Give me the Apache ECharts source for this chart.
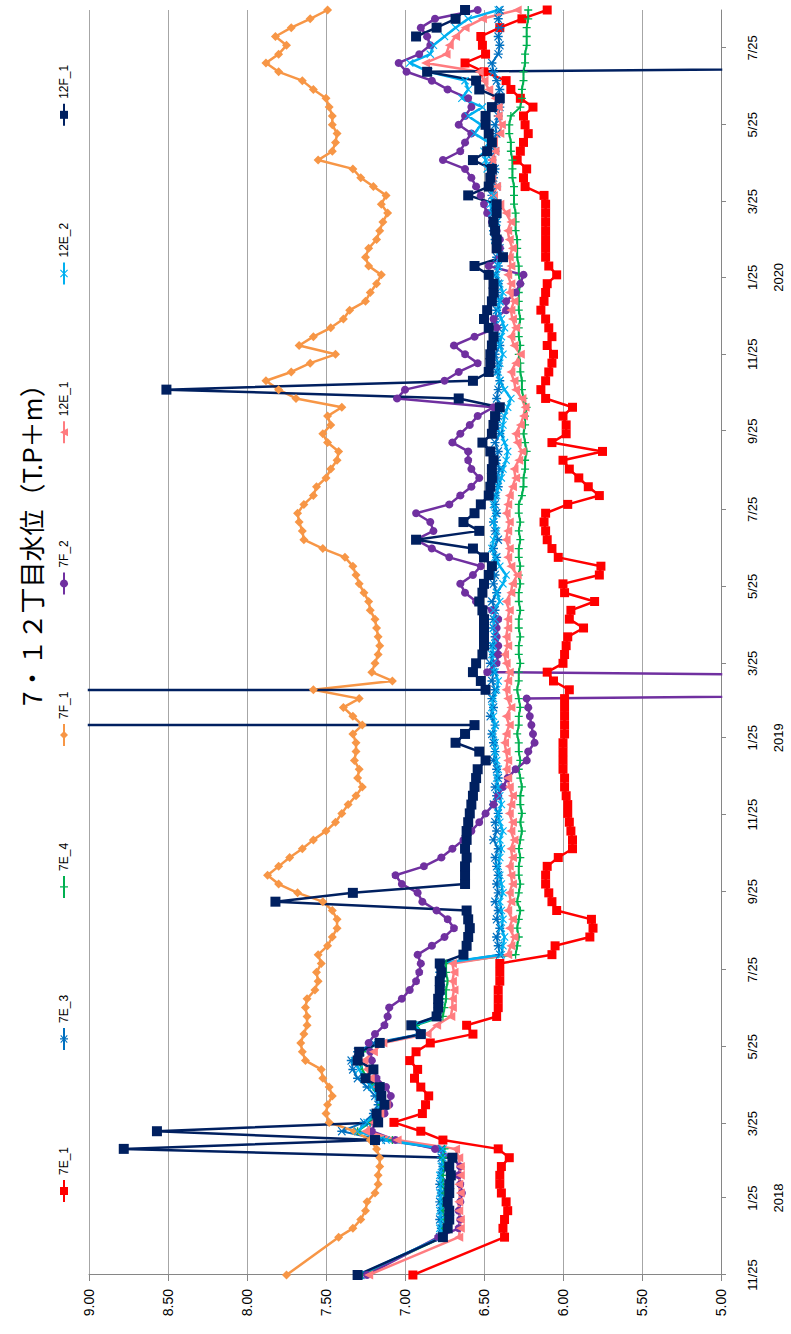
<!DOCTYPE html>
<html><head><meta charset="utf-8">
<script src="https://cdn.jsdelivr.net/npm/echarts@6/dist/echarts.min.js"></script>
<style>
html,body{margin:0;padding:0;background:#fff;overflow:hidden;width:791px;height:1334px;}
#chart{position:absolute;left:0;top:0;width:1334px;height:791px;transform-origin:0 0;transform:translate(0,1334px) rotate(-90deg);}
</style></head><body><div id="chart"></div>
<script>
const dates = ['2017-11-25','2017-12-25',
'2018-01-01','2018-01-08','2018-01-15','2018-01-22','2018-01-29','2018-02-05','2018-02-12','2018-02-19','2018-02-26',
'2018-03-05','2018-03-12','2018-03-19','2018-03-26','2018-04-02','2018-04-09','2018-04-16','2018-04-23','2018-04-30',
'2018-05-07','2018-05-14','2018-05-21','2018-05-28','2018-06-04','2018-06-11','2018-06-18','2018-06-25','2018-07-02',
'2018-07-09','2018-07-16','2018-07-23','2018-07-30','2018-08-06','2018-08-13','2018-08-20','2018-08-27','2018-09-03',
'2018-09-10','2018-09-17','2018-09-24','2018-10-01','2018-10-08','2018-10-15','2018-10-22','2018-10-29','2018-11-05',
'2018-11-12','2018-11-19','2018-11-26','2018-12-03','2018-12-10','2018-12-17','2018-12-24','2018-12-31',
'2019-01-07','2019-01-14','2019-01-21','2019-01-28','2019-02-04','2019-02-11','2019-02-18','2019-02-25','2019-03-04',
'2019-03-11','2019-03-18','2019-03-25','2019-04-01','2019-04-08','2019-04-15','2019-04-22','2019-04-29','2019-05-06',
'2019-05-13','2019-05-20','2019-05-27','2019-06-03','2019-06-10','2019-06-17','2019-06-24','2019-07-01','2019-07-08',
'2019-07-15','2019-07-22','2019-07-29','2019-08-05','2019-08-12','2019-08-19','2019-08-26','2019-09-02','2019-09-09',
'2019-09-16','2019-09-23','2019-09-30','2019-10-07','2019-10-14','2019-10-21','2019-10-28','2019-11-04','2019-11-11',
'2019-11-18','2019-11-25','2019-12-02','2019-12-09','2019-12-16','2019-12-23','2019-12-30',
'2020-01-06','2020-01-13','2020-01-20','2020-01-27','2020-02-03','2020-02-10','2020-02-17','2020-02-24','2020-03-02',
'2020-03-09','2020-03-16','2020-03-23','2020-03-30','2020-04-06','2020-04-13','2020-04-20','2020-04-27','2020-05-04',
'2020-05-11','2020-05-18','2020-05-25','2020-06-01','2020-06-08','2020-06-15','2020-06-22','2020-06-29','2020-07-06',
'2020-07-13','2020-07-20','2020-07-27','2020-08-03','2020-08-10','2020-08-17','2020-08-24'];

const tickDates = ['2017-11-25','2018-01-25','2018-03-25','2018-05-25','2018-07-25','2018-09-25','2018-11-25',
'2019-01-25','2019-03-25','2019-05-25','2019-07-25','2019-09-25','2019-11-25',
'2020-01-25','2020-03-25','2020-05-25','2020-07-25'];

const seriesNames = ['7E_1','7E_3','7E_4','7F_1','7F_2','12E_1','12E_2','12F_1'];

const v7E_1 = [6.95,
6.37,6.38,6.37,6.35,6.36,6.39,6.40,6.40,6.39,6.34,
6.41,6.76,6.90,7.07,6.89,6.87,6.85,6.90,6.94,6.92,
6.97,6.93,6.84,6.57,6.61,6.42,6.41,6.41,6.41,6.40,
6.40,6.40,6.07,6.05,5.83,5.81,5.82,6.04,6.07,6.09,
6.11,6.11,6.10,6.03,5.94,5.94,5.95,5.96,5.97,5.97,
5.98,5.99,5.99,6.00,6.00,6.00,6.00,5.99,5.99,5.99,
5.99,5.99,5.96,6.06,6.10,6.00,5.99,5.98,5.97,5.87,
5.96,5.95,5.80,5.99,6.00,5.77,5.76,6.03,6.07,6.10,
6.11,6.12,6.11,5.97,5.77,5.84,5.90,5.96,6.00,5.75,
6.07,5.98,5.98,6.00,5.94,6.11,6.14,6.11,6.09,6.07,
6.06,6.10,6.07,6.09,6.11,6.14,6.12,6.11,6.10,6.04,
6.09,6.11,6.11,6.11,6.11,6.11,6.11,6.11,6.12,6.24,
6.25,6.23,6.29,6.27,6.25,6.22,6.24,6.25,6.19,6.27,
6.33,6.36,6.50,6.62,6.49,6.51,6.52,6.40,6.26,6.10];

const v7E_3 = [7.28,
6.78,6.77,6.78,6.77,6.78,6.77,6.78,6.77,6.76,6.77,
6.77,7.15,7.40,7.26,7.20,7.17,7.19,7.24,7.30,7.33,
7.34,7.30,7.20,6.91,6.95,6.80,6.79,6.78,6.78,6.77,
6.78,6.77,6.40,6.41,6.42,6.40,6.42,6.41,6.43,6.41,
6.42,6.41,6.42,6.43,6.41,6.44,6.42,6.43,6.41,6.44,
6.42,6.43,6.41,6.42,6.44,6.43,6.44,6.45,6.43,6.46,
6.44,6.45,6.43,6.45,6.44,6.46,6.44,6.45,6.43,6.44,
6.44,6.43,6.45,6.42,6.44,6.43,6.45,6.42,6.44,6.41,
6.43,6.44,6.42,6.43,6.43,6.41,6.42,6.40,6.42,6.41,
6.43,6.40,6.42,6.41,6.40,6.42,6.41,6.40,6.42,6.41,
6.43,6.40,6.42,6.41,6.43,6.42,6.40,6.42,6.41,6.43,
6.41,6.42,6.40,6.43,6.44,6.42,6.44,6.43,6.45,6.42,
6.44,6.43,6.45,6.43,6.44,6.42,6.43,6.41,6.40,6.41,
6.40,6.42,6.44,6.45,6.41,6.40,6.41,6.40,6.41,6.40];

const v7E_4 = [7.27,
6.76,6.76,6.75,6.76,6.76,6.75,6.76,6.76,6.75,6.76,
6.75,7.08,7.30,7.22,7.18,7.15,7.16,7.20,7.24,7.27,
7.30,7.27,7.16,6.88,6.93,6.76,6.75,6.74,6.74,6.73,
6.74,6.74,6.30,6.29,6.28,6.29,6.28,6.27,6.29,6.28,
6.27,6.28,6.28,6.27,6.28,6.27,6.26,6.27,6.26,6.27,
6.27,6.26,6.27,6.28,6.27,6.28,6.28,6.29,6.28,6.28,
6.27,6.28,6.29,6.28,6.28,6.27,6.28,6.28,6.27,6.28,
6.28,6.27,6.28,6.28,6.27,6.28,6.27,6.28,6.28,6.27,
6.28,6.27,6.28,6.28,6.26,6.25,6.25,6.24,6.24,6.23,
6.24,6.25,6.24,6.24,6.23,6.25,6.26,6.26,6.27,6.27,
6.28,6.27,6.28,6.28,6.27,6.28,6.28,6.28,6.27,6.28,
6.28,6.29,6.29,6.29,6.30,6.30,6.30,6.31,6.31,6.31,
6.32,6.32,6.32,6.33,6.33,6.34,6.34,6.33,6.27,6.26,
6.26,6.25,6.25,6.24,6.24,6.23,6.23,6.23,6.22,6.22];

const v7F_1 = [7.75,
7.42,7.33,7.28,7.25,7.24,7.19,7.17,7.17,7.16,7.16,
7.18,7.22,7.32,7.48,7.50,7.49,7.46,7.48,7.52,7.53,
7.63,7.65,7.66,7.64,7.62,7.62,7.63,7.62,7.57,7.55,
7.56,7.53,7.55,7.49,7.46,7.43,7.43,7.46,7.52,7.68,
7.80,7.87,7.80,7.73,7.65,7.58,7.50,7.44,7.40,7.36,
7.31,7.27,7.30,7.29,7.32,7.31,7.31,7.33,7.27,7.33,
7.39,7.29,7.58,7.08,7.21,7.19,7.17,7.16,7.17,7.18,
7.19,7.22,7.23,7.26,7.29,7.31,7.33,7.38,7.52,7.64,
7.65,7.67,7.68,7.64,7.58,7.56,7.50,7.47,7.43,7.42,
7.49,7.52,7.47,7.49,7.40,7.69,7.80,7.88,7.72,7.60,
7.44,7.67,7.58,7.47,7.39,7.35,7.25,7.22,7.18,7.15,
7.23,7.25,7.23,7.18,7.16,7.14,7.11,7.15,7.12,7.20,
7.28,7.33,7.55,7.46,7.44,7.43,7.46,7.46,7.48,7.50,
7.58,7.65,7.80,7.88,7.80,7.75,7.82,7.72,7.60,7.49];

const v7F_2 = [7.24,
6.79,6.66,6.65,6.66,6.65,6.64,6.65,6.66,6.65,6.70,
6.81,7.06,7.21,7.19,7.13,7.10,7.09,7.12,7.18,7.20,
7.21,7.22,7.23,7.19,7.13,7.11,7.10,7.02,6.97,6.93,
6.91,6.90,6.92,6.83,6.75,6.69,6.73,6.80,6.89,6.92,
7.02,7.06,6.88,6.77,6.70,6.63,6.58,6.53,6.49,6.44,
6.41,6.38,6.35,6.30,6.23,6.22,6.18,6.19,6.20,6.21,
6.22,6.23,0,0,6.48,6.42,6.41,6.41,6.42,6.42,
6.41,6.45,6.55,6.62,6.65,6.57,6.52,6.72,6.83,6.93,
6.82,6.84,6.93,6.72,6.65,6.58,6.53,6.58,6.60,6.60,
6.70,6.65,6.59,6.54,6.44,7.05,7.00,6.75,6.66,6.54,
6.62,6.69,6.56,6.42,6.44,6.36,6.36,6.30,6.27,6.25,
6.47,6.40,6.40,6.40,6.42,6.45,6.48,6.50,6.52,6.55,
6.58,6.62,6.76,6.65,6.62,6.58,6.66,6.62,6.58,6.60,
6.73,6.83,6.99,7.04,6.91,6.84,6.86,6.90,6.81,6.54];

const v12E_1 = [7.23,
6.66,6.65,6.65,6.66,6.66,6.65,6.66,6.65,6.65,6.66,
6.68,7.05,7.25,7.20,7.16,7.12,7.15,7.18,7.22,7.24,
7.26,7.20,7.14,6.86,6.80,6.71,6.70,6.70,6.69,6.70,
6.69,6.70,6.35,6.33,6.31,6.34,6.32,6.35,6.33,6.34,
6.32,6.33,6.34,6.32,6.33,6.31,6.33,6.32,6.34,6.33,
6.32,6.34,6.35,6.36,6.35,6.36,6.37,6.36,6.34,6.36,
6.33,6.35,6.36,6.35,6.34,6.36,6.37,6.35,6.36,6.35,
6.35,6.34,6.36,6.33,6.32,6.29,6.33,6.35,6.34,6.36,
6.35,6.34,6.36,6.35,6.34,6.32,6.30,6.31,6.28,6.26,
6.29,6.30,6.27,6.25,6.24,6.26,6.30,6.31,6.33,6.30,
6.27,6.31,6.33,6.30,6.32,6.33,6.31,6.34,6.33,6.35,
6.33,6.34,6.32,6.34,6.35,6.33,6.36,6.40,6.44,6.42,
6.45,6.47,6.45,6.43,6.44,6.40,6.39,6.41,6.41,6.43,
6.47,6.50,6.53,6.87,6.74,6.72,6.68,6.62,6.51,6.29];

const v12E_2 = [7.29,
6.77,6.78,6.77,6.78,6.77,6.78,6.77,6.78,6.77,6.76,
6.76,7.12,7.30,7.24,7.19,7.15,7.17,7.21,7.26,7.29,
7.32,7.28,7.17,6.89,6.94,6.79,6.78,6.78,6.77,6.78,
6.77,6.78,6.39,6.38,6.37,6.39,6.38,6.39,6.40,6.38,
6.39,6.40,6.41,6.40,6.39,6.40,6.38,6.40,6.41,6.39,
6.40,6.41,6.42,6.41,6.42,6.43,6.43,6.44,6.43,6.44,
6.45,6.44,6.42,6.41,6.43,6.44,6.45,6.44,6.43,6.44,
6.43,6.44,6.40,6.42,6.38,6.36,6.40,6.43,6.45,6.44,
6.42,6.44,6.43,6.44,6.42,6.41,6.39,6.38,6.36,6.35,
6.37,6.39,6.38,6.37,6.35,6.33,6.37,6.40,6.41,6.40,
6.38,6.40,6.39,6.37,6.39,6.41,6.40,6.38,6.40,6.42,
6.41,6.40,6.42,6.43,6.44,6.42,6.45,6.46,6.44,6.47,
6.45,6.48,6.49,6.50,6.47,6.56,6.52,6.60,6.51,6.64,
6.60,6.62,6.85,6.97,6.84,6.82,6.75,6.68,6.60,6.41];

const v12F_1 = [7.30,
6.76,6.73,6.72,6.72,6.73,6.72,6.72,6.71,6.72,6.70,
8.78,7.19,8.57,7.17,7.18,7.13,7.15,7.16,7.25,7.20,
7.30,7.29,7.16,6.90,6.96,6.80,6.79,6.79,6.78,6.78,
6.77,6.78,6.63,6.61,6.60,6.59,6.60,6.61,7.82,7.33,
6.62,6.62,6.62,6.61,6.62,6.61,6.61,6.60,6.59,6.58,
6.57,6.56,6.55,6.54,6.49,6.53,6.68,6.62,6.56,99,
99,99,6.49,6.52,6.57,6.55,6.51,6.50,6.50,6.50,
6.50,6.51,6.53,6.51,6.50,6.47,6.45,6.50,6.57,6.93,
6.53,6.63,6.56,6.52,6.47,6.46,6.45,6.45,6.44,6.46,
6.51,6.45,6.44,6.43,6.40,6.66,8.51,6.57,6.47,6.46,
6.46,6.45,6.44,6.47,6.50,6.48,6.45,6.44,6.44,6.47,
6.56,6.38,6.42,6.42,6.43,6.44,6.42,6.42,6.60,6.47,
6.46,6.45,6.57,6.48,6.45,6.47,6.49,6.49,6.45,6.40,
6.53,6.55,6.86,0,null,null,6.93,6.80,6.68,6.62];

const seriesValues = [v7E_1, v7E_3, v7E_4, v7F_1, v7F_2, v12E_1, v12E_2, v12F_1];

function ts(s){ const p = s.split('-'); return Date.UTC(+p[0], +p[1]-1, +p[2]); }

const P_X = 'path://M-5,-4L-4,-5L0,-1L4,-5L5,-4L1,0L5,4L4,5L0,1L-4,5L-5,4L-1,0Z';
const P_AST = 'path://M-5,-4L-4,-5L0,-1L4,-5L5,-4L1,0L5,4L4,5L0,1L-4,5L-5,4L-1,0Z M-0.8,-5.5L0.8,-5.5L0.8,5.5L-0.8,5.5Z';
const P_PLUS = 'path://M-0.8,-5L0.8,-5L0.8,-0.8L5,-0.8L5,0.8L0.8,0.8L0.8,5L-0.8,5L-0.8,0.8L-5,0.8L-5,-0.8L-0.8,-0.8Z';

const styles = [
  {color:'#FF0000', symbol:'rect', size:9, w:2.5},
  {color:'#0070C0', symbol:P_AST, size:9, w:2},
  {color:'#00B050', symbol:P_PLUS, size:8, w:2},
  {color:'#F79646', symbol:'diamond', size:9, w:2.5},
  {color:'#7030A0', symbol:'circle', size:8, w:2.5},
  {color:'#FF7C80', symbol:'triangle', size:9, w:2.5},
  {color:'#00B0F0', symbol:P_X, size:8, w:2.5},
  {color:'#002060', symbol:'rect', size:10, w:2.5}
];

const dateTs = dates.map(ts);
const series = seriesNames.map((name, k) => ({
  name: name,
  type: 'line',
  data: dateTs.map((t, i) => [t, seriesValues[k][i] === null ? '-' : seriesValues[k][i]]),
  symbol: styles[k].symbol,
  symbolSize: styles[k].size,
  showSymbol: true,
  showAllSymbol: true,
  connectNulls: false,
  clip: true,
  color: styles[k].color,
  lineStyle: {color: styles[k].color, width: styles[k].w},
  itemStyle: {color: styles[k].color, borderWidth: 0},
  emphasis: {disabled: true},
  animation: false
}));

const chart = echarts.init(document.getElementById('chart'), null, {renderer: 'svg', width: 1334, height: 791});
chart.setOption({
  animation: false,
  backgroundColor: '#ffffff',
  title: {
    text: '7・１２丁目水位（T.P＋m）',
    left: 623, top: 12,
    textStyle: {fontFamily: '"Noto Sans CJK JP", sans-serif', fontSize: 26, fontWeight: 'normal', color: '#000'}
  },
  legend: {
    data: seriesNames,
    left: 126, top: 53,
    itemWidth: 22, itemHeight: 10, itemGap: 96,
    textStyle: {fontFamily: '"Liberation Sans Narrow", "Liberation Sans", sans-serif', fontSize: 12, color: '#000'}
  },
  grid: {left: 59, right: 10, top: 89, bottom: 61, containLabel: false},
  xAxis: {
    type: 'value',
    min: ts(dates[0]), max: ts(dates[dates.length-1]),
    splitLine: {show: false},
    axisLine: {show: true, lineStyle: {color: '#868686', width: 1}},
    axisTick: {show: true, customValues: tickDates.map(ts), length: 5, lineStyle: {color: '#868686'}},
    axisLabel: {
      customValues: tickDates.map(ts),
      margin: 18, lineHeight: 26,
      fontFamily: '"Liberation Sans", Arial, sans-serif', fontSize: 13, color: '#000',
      formatter: function (v) {
        const d = new Date(v);
        const m = d.getUTCMonth() + 1;
        let s = m + '/' + d.getUTCDate();
        if (m === 1) s += '\n' + d.getUTCFullYear();
        return s;
      }
    }
  },
  yAxis: {
    type: 'value', min: 5, max: 9, interval: 0.5,
    axisLine: {show: true, lineStyle: {color: '#868686', width: 1}},
    axisTick: {show: true, length: 6, lineStyle: {color: '#868686'}},
    splitLine: {show: true, lineStyle: {color: '#A6A6A6', width: 1}},
    axisLabel: {
      margin: 14,
      fontFamily: '"Liberation Sans", Arial, sans-serif', fontSize: 14, color: '#000',
      formatter: function (v) { return v.toFixed(2); }
    }
  },
  series: series
});
</script>
</body></html>
